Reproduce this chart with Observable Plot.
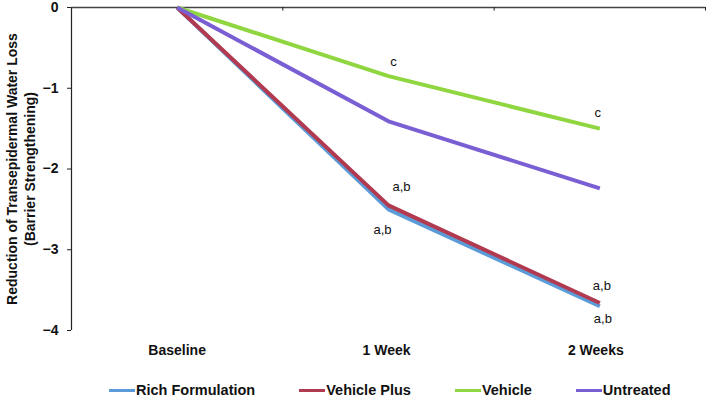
<!DOCTYPE html>
<html>
<head>
<meta charset="utf-8">
<script src="https://cdn.jsdelivr.net/npm/d3@7"></script>
<script src="https://cdn.jsdelivr.net/npm/@observablehq/plot@0.6"></script>
<style>
  html, body { margin: 0; padding: 0; background: #fff; }
  body { width: 707px; height: 402px; overflow: hidden; font-family: "Liberation Sans", Arial, sans-serif; }
  #legend { display: flex; align-items: center; height: 24px; padding-left: 109px; gap: 44px; font-weight: bold; font-size: 14.5px; color: #111; }
  .item { display: flex; align-items: center; }
  .sw { width: 26px; height: 3px; margin-right: 1px; }
</style>
</head>
<body>
<div id="chart"></div>
<div id="legend"></div>
<script>
const timepoints = ["Baseline", "1 Week", "2 Weeks"];
const seriesNames = ["Rich Formulation", "Vehicle Plus", "Vehicle", "Untreated"];
const seriesColors = ["#5b9bd8", "#b23a50", "#8fd640", "#7a5fd4"];
const richFormulation = [0, -2.50, -3.70];
const vehiclePlus = [0, -2.45, -3.66];
const vehicle = [0, -0.85, -1.50];
const untreated = [0, -1.41, -2.24];
const yTicks = [0, -1, -2, -3, -4];
const yLabelLines = ["Reduction of Transepidermal Water Loss", "(Barrier Strengthening)"];

const seriesValues = [richFormulation, vehiclePlus, vehicle, untreated];
const rows = [];
seriesNames.forEach((s, si) => {
  seriesValues[si].forEach((v, ti) => rows.push({series: s, t: ti, value: v}));
});
const val = (s, t) => seriesValues[seriesNames.indexOf(s)][timepoints.indexOf(t)];

const boundaries = timepoints.map((_, i) => i + 0.5);
const xDomain = [-0.5, timepoints.length - 0.5];
const xLabelShift = [0, -2, -4];
const fmtY = d => d === 0 ? "0" : "\u2212" + Math.abs(d);

function note(series, time, label, dx, dy) {
  return Plot.text([{t: timepoints.indexOf(time), value: val(series, time), label}], {
    x: "t", y: "value", text: "label", dx, dy,
    fontSize: 13, fill: "#111"
  });
}

const chart = Plot.plot({
  width: 707,
  height: 378,
  marginLeft: 71,
  marginRight: 2,
  marginTop: 7,
  marginBottom: 48,
  style: {fontFamily: "Liberation Sans, Arial, sans-serif", background: "#fff"},
  x: {domain: xDomain},
  y: {domain: [-4, 0]},
  color: {domain: seriesNames, range: seriesColors},
  marks: [
    Plot.axisY({ticks: yTicks, tickFormat: fmtY, tickSize: 4, tickPadding: 9, fontSize: 14, fontWeight: "bold", label: null, stroke: "#222", fill: "#111"}),
    ...timepoints.map((t, i) => Plot.axisX({ticks: [i], tickFormat: j => timepoints[j], tickSize: 0, tickPadding: 15, dx: xLabelShift[i], fontSize: 14, fontWeight: "bold", label: null, fill: "#111"})),
    Plot.ruleX([xDomain[0]], {y1: -4, y2: 0, stroke: "#222", strokeWidth: 1.2}),
    Plot.ruleY([0], {stroke: "#444", strokeWidth: 1.5}),
    Plot.ruleX(boundaries, {y1: 0, y2: -0.045, stroke: "#222", strokeWidth: 1}),
    Plot.line(rows, {x: "t", y: "value", z: "series", stroke: "series", strokeWidth: 4, strokeLinejoin: "round", strokeLinecap: "butt"}),
    note("Vehicle", "1 Week", "c", 5, -14),
    note("Vehicle", "2 Weeks", "c", -2, -16),
    note("Vehicle Plus", "1 Week", "a,b", 13, -19),
    note("Rich Formulation", "1 Week", "a,b", -6, 20),
    note("Vehicle Plus", "2 Weeks", "a,b", 2, -17),
    note("Rich Formulation", "2 Weeks", "a,b", 3, 13),
    Plot.text([yLabelLines.join("\n")], {
      frameAnchor: "left", rotate: -90, dx: -51, lineHeight: 1.3, textAnchor: "middle",
      fontSize: 14, fontWeight: "bold", fill: "#111"
    })
  ]
});
document.getElementById("chart").appendChild(chart);

const legend = d3.select("#legend");
seriesNames.forEach((s, i) => {
  const it = legend.append("div").attr("class", "item");
  it.append("div").attr("class", "sw").style("background", seriesColors[i]);
  it.append("span").text(s);
});
</script>
</body>
</html>
